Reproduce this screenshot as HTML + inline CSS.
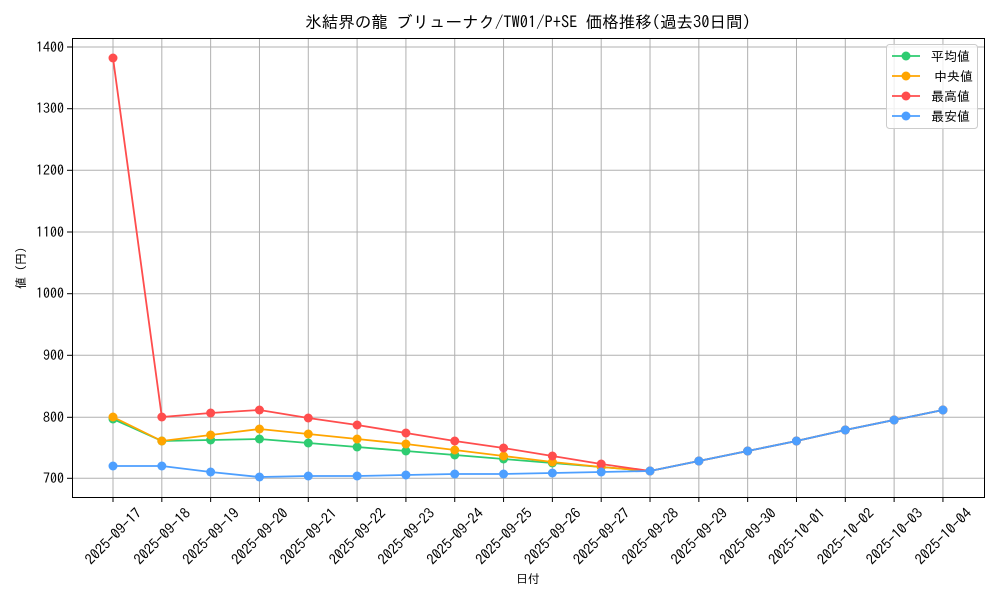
<!DOCTYPE html>
<html><head><meta charset="utf-8"><style>body{margin:0;background:#fff}svg{display:block;font-family:"IPAGothic","Noto Sans CJK JP",sans-serif}</style></head><body>
<svg width="1000" height="600" viewBox="0 0 1000 600">
<rect width="1000" height="600" fill="#fff"/>
<g stroke="#b0b0b0" stroke-width="1">
<line x1="72" x2="984" y1="478.3" y2="478.3"/><line x1="72" x2="984" y1="417.3" y2="417.3"/><line x1="72" x2="984" y1="355.3" y2="355.3"/><line x1="72" x2="984" y1="293.7" y2="293.7"/><line x1="72" x2="984" y1="232" y2="232"/><line x1="72" x2="984" y1="170.3" y2="170.3"/><line x1="72" x2="984" y1="108.7" y2="108.7"/><line x1="72" x2="984" y1="47" y2="47"/>
</g>
<g id="vg" stroke="#b0b0b0" stroke-width="1"></g>
<g id="xt" font-size="14.5" fill="#000"></g>
<g font-size="14" text-anchor="end" fill="#000">
<text x="64" y="483">700</text><text x="64" y="422">800</text><text x="64" y="360">900</text><text x="64" y="298">1000</text><text x="64" y="237">1100</text><text x="64" y="175">1200</text><text x="64" y="113">1300</text><text x="64" y="52">1400</text>
</g>
<g stroke="#000" stroke-width="1"><line x1="67" x2="72" y1="478.3" y2="478.3"/><line x1="67" x2="72" y1="417.3" y2="417.3"/><line x1="67" x2="72" y1="355.3" y2="355.3"/><line x1="67" x2="72" y1="293.7" y2="293.7"/><line x1="67" x2="72" y1="232" y2="232"/><line x1="67" x2="72" y1="170.3" y2="170.3"/><line x1="67" x2="72" y1="108.7" y2="108.7"/><line x1="67" x2="72" y1="47" y2="47"/></g>
<g id="series"></g>
<rect x="72.5" y="38.5" width="912" height="459" fill="none" stroke="#000" stroke-width="1"/>
<text x="528" y="28" font-size="16.5" text-anchor="middle">氷結界の龍 ブリューナク/TW01/P+SE 価格推移(過去30日間)</text>
<text x="528" y="583" font-size="12" text-anchor="middle">日付</text>
<text transform="translate(25,268) rotate(-90)" font-size="12" text-anchor="middle">値 (円)</text>
<rect x="886.5" y="44.5" width="91" height="84" rx="3" fill="#fff" fill-opacity="0.8" stroke="#ccc"/>
<g font-size="13">
<line x1="892" x2="920" y1="56" y2="56" stroke="#2ecc71" stroke-width="1.8"/><circle cx="906" cy="56" r="4.5" fill="#2ecc71"/><text x="931" y="61">平均値</text>
<line x1="892" x2="920" y1="76" y2="76" stroke="#ffa500" stroke-width="1.8"/><circle cx="906" cy="76" r="4.5" fill="#ffa500"/><text x="934" y="81">中央値</text>
<line x1="892" x2="920" y1="96" y2="96" stroke="#ff4d4d" stroke-width="1.8"/><circle cx="906" cy="96" r="4.5" fill="#ff4d4d"/><text x="931" y="101">最高値</text>
<line x1="892" x2="920" y1="116" y2="116" stroke="#4d9fff" stroke-width="1.8"/><circle cx="906" cy="116" r="4.5" fill="#4d9fff"/><text x="931" y="121">最安値</text>
</g>
</svg>
<script>
const X=i=>113+48.82*i;
const dates=["09-17","09-18","09-19","09-20","09-21","09-22","09-23","09-24","09-25","09-26","09-27","09-28","09-29","09-30","10-01","10-02","10-03","10-04"];
const vg=document.getElementById('vg'),xt=document.getElementById('xt');
dates.forEach((d,i)=>{const x=X(i);
vg.insertAdjacentHTML('beforeend',`<line x1="${x}" x2="${x}" y1="38" y2="497"/>`);
xt.insertAdjacentHTML('beforeend',`<line x1="${x}" x2="${x}" y1="497" y2="502" stroke="#000"/><text transform="translate(${x},536) rotate(-45)" text-anchor="middle" dominant-baseline="central">2025-${d}</text>`);});
const tail=[461,451,441,430,420,410];
const S=[
["#2ecc71",[419,441,440,439,443,447,451,455,459,463,467,471]],
["#ffa500",[417,441,435,429,434,439,444,450,456,462,467,471]],
["#ff4d4d",[58,417,413,410,418,425,433,441,448,456,464,471]],
["#4d9fff",[466,466,472,477,476,476,475,474,474,473,472,471]]];
const g=document.getElementById('series');
S.forEach(([c,ys])=>{ys=ys.concat(tail);
const pts=ys.map((y,i)=>X(i)+","+y).join(" ");
let h=`<polyline points="${pts}" fill="none" stroke="${c}" stroke-width="1.8"/>`;
ys.forEach((y,i)=>h+=`<circle cx="${X(i)}" cy="${y}" r="4.5" fill="${c}"/>`);
g.insertAdjacentHTML('beforeend',h);});
</script>
</body></html>
